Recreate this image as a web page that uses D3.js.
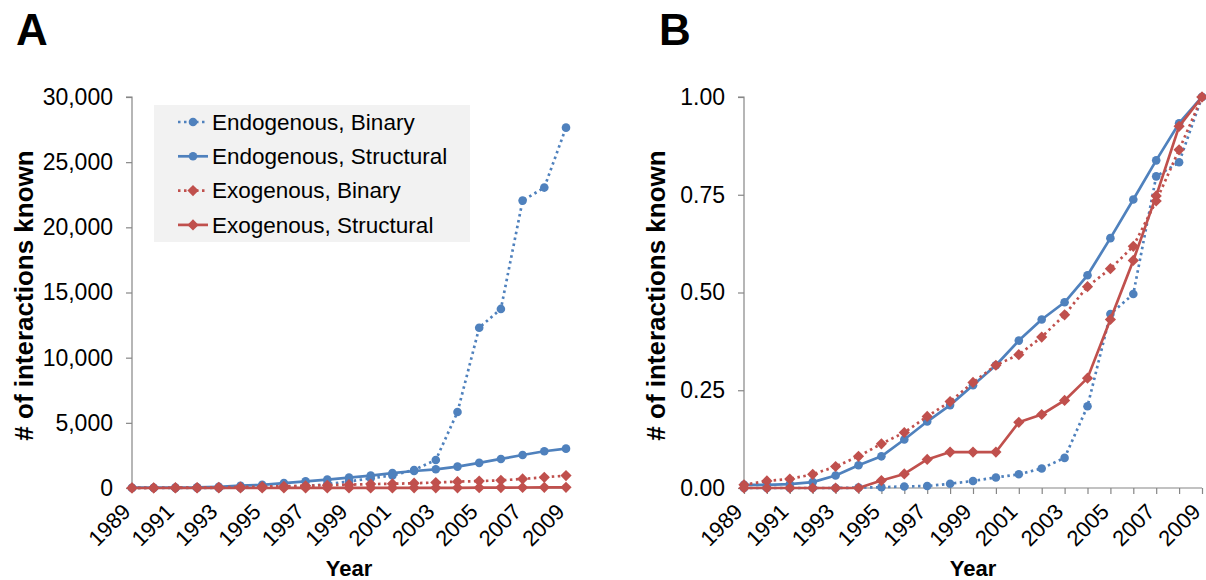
<!DOCTYPE html>
<html><head><meta charset="utf-8">
<script src="https://cdn.jsdelivr.net/npm/d3@7"></script>
<style>body{margin:0;background:#fff}svg{display:block;font-family:"Liberation Sans",Arial,sans-serif}</style>
</head><body><svg id="c" width="1206" height="580"></svg>
<script>
const years = d3.range(1989, 2010);
const yearLabels = [1989,1991,1993,1995,1997,1999,2001,2003,2005,2007,2009];
const seriesNames = ["Endogenous, Binary","Endogenous, Structural","Exogenous, Binary","Exogenous, Structural"];
// Panel A: number of interactions known
const endoBinary = [5,5,5,5,10,28,55,110,138,304,498,747,968,1383,2150,5830,12300,13740,22050,23050,27650];
const endoStructural = [24,24,30,45,97,175,245,375,513,640,794,948,1139,1302,1435,1643,1930,2229,2531,2818,3020];
const exoBinary = [8,17,22,33,52,77,107,135,174,210,257,298,324,367,421,489,533,587,697,822,950];
const exoStructural = [0,0,0,0,0,0,1,2,4,5,5,5,9,10,12,15,23,31,40,49,53];
// Panel B: fraction of final count
const endoBinaryFrac = [0,0,0,0,0,0.001,0.002,0.004,0.005,0.011,0.018,0.027,0.035,0.050,0.077,0.209,0.445,0.496,0.797,0.833,1.0];
const endoStructuralFrac = [0.008,0.008,0.010,0.015,0.032,0.058,0.081,0.124,0.170,0.212,0.263,0.314,0.377,0.431,0.475,0.544,0.639,0.738,0.838,0.933,1.0];
const exoBinaryFrac = [0.008,0.018,0.023,0.035,0.055,0.081,0.113,0.142,0.183,0.221,0.270,0.314,0.341,0.386,0.443,0.515,0.561,0.618,0.734,0.865,1.0];
const exoStructuralFrac = [0,0,0,0,0,0,0.019,0.036,0.073,0.092,0.092,0.092,0.168,0.188,0.224,0.281,0.431,0.582,0.747,0.925,1.0];
const yTicksA = [0,5000,10000,15000,20000,25000,30000];
const yTicksB = [0,0.25,0.5,0.75,1.0];

const BLUE = "#4f81bd", RED = "#c0504d", AXIS = "#868686";
const styles = [
  {color: BLUE, dash: "2.5,3.5", marker: "circle"},
  {color: BLUE, dash: null, marker: "circle"},
  {color: RED, dash: "2.5,3.5", marker: "diamond"},
  {color: RED, dash: null, marker: "diamond"}
];
const svg = d3.select("#c");
const FS = 23;

function drawMarker(g, type, x, y, color) {
  if (type === "circle") {
    g.append("circle").attr("cx", x).attr("cy", y).attr("r", 4.3).attr("fill", color);
  } else {
    const s = 5.6;
    g.append("path").attr("d", `M${x},${y-s}L${x+s},${y}L${x},${y+s}L${x-s},${y}Z`).attr("fill", color);
  }
}

function panel(opts) {
  const {data, x0, x1, yTop, yBot, domainMax, ticks, fmt, letter, letterX, ylabX, xTicks} = opts;
  const g = svg.append("g");
  const x = d3.scalePoint().domain(years).range([x0, x1]);
  const y = d3.scaleLinear().domain([0, domainMax]).range([yBot, yTop]);

  // y axis
  const ya = g.append("g").attr("transform", `translate(${x0},0)`)
    .call(d3.axisLeft(y).tickValues(ticks).tickFormat(fmt).tickSize(6).tickPadding(13));
  ya.select(".domain").attr("stroke", AXIS).attr("stroke-width", 1.2).attr("d", `M-6,${yTop}H0V${yBot}`);
  ya.selectAll(".tick line").attr("stroke", AXIS).attr("stroke-width", 1.2);
  ya.selectAll(".tick text").attr("font-size", FS).attr("fill", "#000").attr("font-family", '"Liberation Sans",Arial,sans-serif');

  // x axis
  const xa = g.append("g").attr("transform", `translate(0,${yBot})`)
    .call(d3.axisBottom(x).tickValues(xTicks ? years : []).tickSize(6).tickFormat(""));
  xa.select(".domain").attr("stroke", AXIS).attr("stroke-width", 1.2).attr("d", `M${x0},0H${x1}`);
  xa.selectAll(".tick line").attr("stroke", AXIS).attr("stroke-width", 1.2);
  // rotated year labels
  g.append("g").selectAll("text").data(yearLabels).join("text")
    .attr("transform", d => `translate(${x(d)},${yBot+25}) rotate(-45)`)
    .attr("text-anchor", "end").attr("font-size", 22).text(d => d);

  // lines and markers
  data.forEach((vals, i) => {
    const st = styles[i];
    const line = d3.line().x((d, j) => x(years[j])).y(d => y(d));
    g.append("path").attr("d", line(vals)).attr("fill", "none").attr("stroke", st.color)
      .attr("stroke-width", 2.7).attr("stroke-dasharray", st.dash).attr("stroke-linejoin", "round");
    const mg = g.append("g");
    vals.forEach((v, j) => drawMarker(mg, st.marker, x(years[j]), y(v), st.color));
  });

  // labels
  g.append("text").attr("x", letterX).attr("y", 45).attr("font-size", 44).attr("font-weight", "bold").text(letter);
  g.append("text").attr("x", (x0 + x1) / 2).attr("y", 576).attr("text-anchor", "middle")
    .attr("font-size", 22).attr("font-weight", "bold").text("Year");
  g.append("text").attr("transform", `translate(${ylabX},${(yTop + yBot) / 2 + 3}) rotate(-90)`)
    .attr("text-anchor", "middle").attr("font-size", 26).attr("font-weight", "bold").text("# of interactions known");
  return g;
}

panel({data: [endoBinary, endoStructural, exoBinary, exoStructural], x0: 132, x1: 566, yTop: 97, yBot: 488,
  domainMax: 30000, ticks: yTicksA, fmt: d3.format(","), letter: "A", letterX: 16, ylabX: 33, xTicks: false});
panel({data: [endoBinaryFrac, endoStructuralFrac, exoBinaryFrac, exoStructuralFrac], x0: 744, x1: 1202, yTop: 97, yBot: 488,
  domainMax: 1, ticks: yTicksB, fmt: d3.format(".2f"), letter: "B", letterX: 659, ylabX: 665, xTicks: true});

// legend (panel A)
const lg = svg.append("g");
lg.append("rect").attr("x", 154).attr("y", 105).attr("width", 316).attr("height", 137).attr("fill", "#f2f2f2");
seriesNames.forEach((name, i) => {
  const cy = 122 + i * 34.3;
  const st = styles[i];
  lg.append("line").attr("x1", 178).attr("x2", 208).attr("y1", cy).attr("y2", cy)
    .attr("stroke", st.color).attr("stroke-width", 2.7).attr("stroke-dasharray", st.dash);
  drawMarker(lg, st.marker, 193, cy, st.color);
  lg.append("text").attr("x", 212).attr("y", cy).attr("dy", "0.35em").attr("font-size", 22.5).text(name);
});
</script></body></html>
